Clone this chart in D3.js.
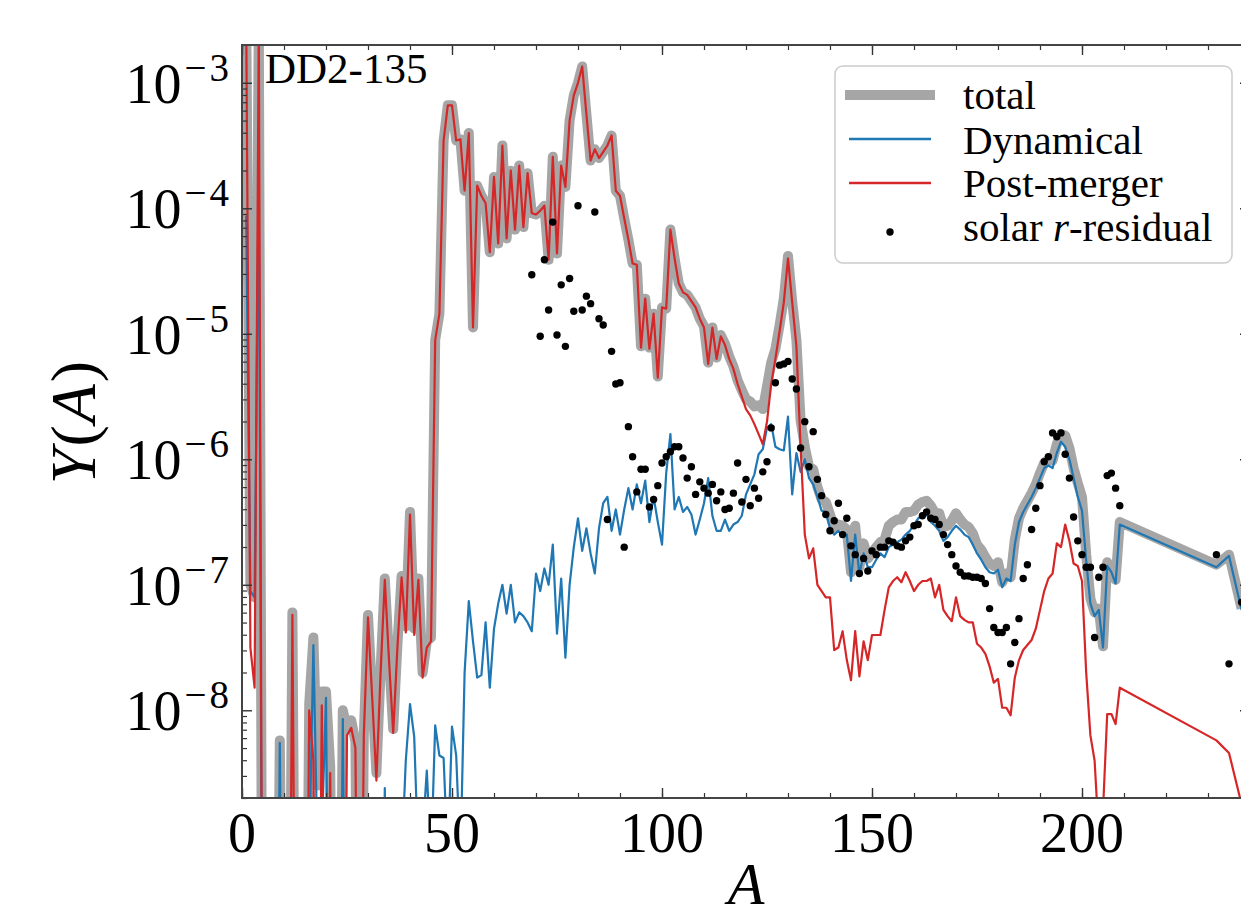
<!DOCTYPE html>
<html><head><meta charset="utf-8">
<script src="https://cdn.jsdelivr.net/npm/d3@7"></script>
<style>
body{margin:0;background:#fff}
svg{display:block}
text{font-family:"Liberation Serif","DejaVu Serif",serif;fill:#000}
</style>
</head><body>
<svg id="chart" width="1241" height="919"></svg>
<script>
// ---- data (log10 of Y(A)); -12 means below the plotted range ----
const massNumber = d3.range(1, 210).concat([232, 235, 238]);

const totalLog10 = [
-2.45,-7.0,-7.1,-2.5,-12,-12,-12,-12,-8.24,-12,
-12,-7.22,-12,-12,-12,-7.95,-7.42,-8.6,-7.85,-7.85,
-8.45,-12,-12,-8.0,-8.15,-8.08,-8.25,-12,-8.2,-7.24,
-7.88,-8.5,-7.68,-6.95,-7.58,-8.15,-7.48,-6.93,-7.33,-6.42,
-7.35,-6.95,-7.7,-7.45,-7.42,-5.05,-4.84,-3.46,-3.18,-3.18,
-3.46,-3.45,-3.86,-3.4,-4.95,-3.82,-3.9,-3.96,-4.35,-3.75,
-4.28,-3.5,-4.24,-3.7,-4.17,-3.66,-4.15,-3.72,-4.04,-4.05,
-4.02,-3.98,-4.41,-3.59,-4.36,-3.66,-3.83,-3.3,-3.1,-3.0,
-2.87,-3.25,-3.62,-3.53,-3.6,-3.55,-3.5,-3.42,-3.86,-3.9,
-4.08,-4.25,-4.44,-4.45,-5.1,-4.72,-5.11,-4.84,-5.34,-4.79,
-4.8,-4.17,-4.4,-4.6,-4.67,-4.69,-4.74,-4.79,-4.88,-4.94,
-5.23,-4.95,-5.19,-5.01,-5.08,-5.18,-5.26,-5.37,-5.45,-5.52,
-5.54,-5.58,-5.57,-5.6,-5.42,-5.23,-5.12,-4.93,-4.72,-4.38,
-4.74,-5.05,-5.69,-5.9,-6.06,-6.08,-6.22,-6.32,-6.34,-6.44,
-6.55,-6.52,-6.53,-6.56,-6.9,-6.53,-6.86,-6.67,-6.79,-6.75,
-6.7,-6.66,-6.64,-6.53,-6.5,-6.48,-6.48,-6.42,-6.42,-6.41,
-6.36,-6.34,-6.33,-6.37,-6.43,-6.43,-6.54,-6.53,-6.49,-6.43,
-6.48,-6.52,-6.54,-6.59,-6.68,-6.72,-6.78,-6.83,-6.85,-6.82,
-6.98,-6.91,-6.94,-6.64,-6.47,-6.39,-6.33,-6.27,-6.2,-6.11,
-6.03,-6.0,-6.01,-5.88,-5.8,-5.81,-5.91,-6.07,-6.19,-6.3,
-6.76,-7.11,-7.22,-7.19,-7.49,-6.82,-6.87,-6.96,-6.5,
-6.84,-6.76,-7.19];

const dynamicalLog10 = [
-4.06,-7.05,-7.1,-3.7,-12,-12,-12,-12,-8.26,-12,
-12,-12,-12,-12,-12,-9.2,-7.48,-9.2,-9.0,-7.9,
-12,-12,-12,-8.07,-12,-12,-12,-12,-12,-12,
-12,-12,-12,-8.62,-12,-12,-12,-9.2,-8.4,-7.95,
-8.21,-9.2,-9.0,-8.48,-9.2,-8.12,-8.36,-8.38,-9.2,-8.13,
-8.36,-9.2,-7.7,-7.13,-7.45,-7.74,-7.72,-7.3,-7.82,-7.35,
-7.15,-7.0,-7.23,-7.0,-7.3,-7.22,-7.25,-7.3,-7.37,-6.91,
-7.05,-6.87,-7.0,-6.68,-7.39,-6.95,-7.58,-7.0,-6.7,-6.47,
-6.73,-6.55,-6.75,-6.91,-6.55,-6.35,-6.3,-6.57,-6.4,-6.6,
-6.4,-6.23,-6.4,-6.2,-6.35,-6.17,-6.5,-6.3,-6.5,-6.68,
-6.11,-5.8,-6.4,-6.3,-6.42,-6.38,-6.44,-6.6,-6.48,-6.35,
-6.15,-6.45,-6.57,-6.57,-6.48,-6.57,-6.52,-6.5,-6.45,-6.28,
-6.2,-6.12,-5.96,-5.92,-5.75,-5.72,-5.9,-5.92,-5.93,-5.66,
-6.28,-5.95,-6.1,-6.0,-6.15,-6.2,-6.3,-6.41,-6.42,-6.55,
-6.6,-6.57,-6.6,-6.6,-6.97,-6.6,-6.92,-6.75,-6.86,-6.86,
-6.8,-6.75,-6.78,-6.7,-6.68,-6.66,-6.64,-6.6,-6.57,-6.52,
-6.47,-6.45,-6.44,-6.5,-6.53,-6.57,-6.65,-6.62,-6.57,-6.53,
-6.56,-6.6,-6.62,-6.68,-6.75,-6.8,-6.86,-6.9,-6.91,-6.88,
-7.02,-6.95,-6.97,-6.68,-6.5,-6.42,-6.36,-6.3,-6.23,-6.15,
-6.07,-6.05,-6.07,-5.95,-5.86,-5.9,-6.0,-6.15,-6.3,-6.41,
-6.81,-7.15,-7.25,-7.2,-7.5,-6.85,-6.9,-6.99,-6.52,
-6.86,-6.77,-7.2];

const postMergerLog10 = [
-2.5,-7.5,-7.82,-2.55,-12,-12,-12,-12,-12,-12,
-12,-7.24,-12,-12,-12,-8.0,-8.4,-12,-7.96,-12,
-8.5,-12,-12,-12,-8.2,-8.14,-8.3,-12,-8.2,-7.26,
-7.9,-8.56,-7.7,-6.96,-7.6,-8.18,-7.5,-6.94,-7.38,-6.44,
-7.4,-6.96,-7.74,-7.5,-7.45,-5.05,-4.84,-3.46,-3.18,-3.18,
-3.46,-3.45,-3.86,-3.4,-4.95,-3.82,-3.9,-3.96,-4.35,-3.75,
-4.28,-3.5,-4.24,-3.7,-4.17,-3.66,-4.15,-3.72,-4.04,-4.05,
-4.02,-3.98,-4.41,-3.59,-4.36,-3.66,-3.83,-3.3,-3.1,-3.0,
-2.87,-3.25,-3.62,-3.53,-3.6,-3.55,-3.5,-3.42,-3.86,-3.9,
-4.08,-4.25,-4.44,-4.45,-5.11,-4.72,-5.12,-4.84,-5.35,-4.79,
-4.8,-4.17,-4.4,-4.6,-4.67,-4.69,-4.74,-4.79,-4.88,-4.95,
-5.24,-4.95,-5.2,-5.02,-5.09,-5.2,-5.28,-5.4,-5.5,-5.6,
-5.65,-5.72,-5.8,-5.88,-5.7,-5.4,-5.2,-4.98,-4.75,-4.4,
-4.75,-5.1,-5.9,-6.6,-6.79,-6.71,-7.0,-7.05,-7.1,-7.1,
-7.52,-7.5,-7.37,-7.6,-7.76,-7.37,-7.73,-7.45,-7.6,-7.4,
-7.4,-7.4,-7.2,-7.02,-6.97,-6.94,-6.98,-6.9,-6.97,-7.05,
-7.0,-6.97,-6.97,-6.95,-7.1,-7.0,-7.2,-7.25,-7.29,-7.1,
-7.25,-7.28,-7.3,-7.3,-7.47,-7.5,-7.55,-7.65,-7.78,-7.75,
-7.98,-7.98,-8.04,-7.74,-7.6,-7.52,-7.48,-7.44,-7.35,-7.2,
-7.05,-6.95,-6.91,-6.67,-6.7,-6.52,-6.65,-6.83,-6.85,-6.97,
-7.7,-8.2,-8.4,-9.0,-8.8,-8.03,-8.03,-8.11,-7.82,
-8.24,-8.34,-8.75];

const solarA = [69,71,72,73,74,75,76,77,78,79,80,81,82,83,84,85,86,87,88,89,90,91,92,93,94,95,96,97,98,99,
100,101,102,103,104,105,106,107,108,109,110,111,112,113,114,115,116,117,118,119,120,121,122,123,124,125,126,127,128,129,
130,131,132,133,134,135,136,137,138,139,140,141,142,143,144,145,146,147,148,149,150,151,152,153,154,155,156,157,158,159,
160,161,162,163,164,165,166,167,168,169,170,171,172,173,174,175,176,177,178,179,180,181,182,183,184,185,186,187,188,189,
190,191,192,193,194,195,196,197,198,199,200,201,202,203,204,205,206,207,208,209,232,235,238];
const solarLog10 = [-4.53,-5.02,-4.41,-4.81,-4.11,-5.01,-4.61,-5.10,-4.56,-4.82,-3.98,-4.81,-4.70,-4.76,-4.03,-4.88,-4.93,-6.48,-5.14,-5.40,-5.39,-6.70,-5.74,-5.98,-6.26,-6.08,-6.08,-6.38,-6.32,-6.21,
-6.03,-5.98,-5.94,-5.90,-5.90,-5.99,-6.15,-6.06,-6.28,-6.18,-6.23,-6.27,-6.20,-6.33,-6.26,-6.40,-6.39,-6.27,-6.03,-6.34,-6.16,-6.37,-6.23,-6.31,-6.10,-6.02,-5.75,-5.39,-5.25,-5.24,
-5.22,-5.36,-5.44,-5.91,-5.70,-6.06,-5.78,-6.16,-6.29,-6.44,-6.57,-6.49,-6.35,-6.60,-6.47,-6.69,-6.76,-6.91,-6.79,-6.89,-6.73,-6.76,-6.70,-6.70,-6.65,-6.66,-6.69,-6.70,-6.65,-6.62,
-6.53,-6.52,-6.45,-6.42,-6.47,-6.48,-6.52,-6.60,-6.68,-6.76,-6.85,-6.90,-6.93,-6.93,-6.94,-6.94,-6.95,-6.99,-7.19,-7.34,-7.38,-7.38,-7.34,-7.63,-7.46,-7.27,-6.95,-6.84,-6.56,-6.39,
-6.21,-6.02,-5.98,-5.79,-5.82,-5.79,-5.96,-6.15,-6.46,-6.65,-6.76,-6.86,-6.86,-7.42,-6.94,-6.86,-6.13,-6.11,-6.23,-6.37,-6.76,-7.63,-7.14];

const xMajorTicks = [0, 50, 100, 150, 200];
const xMinorTicks = d3.range(0, 241, 10);
const yMajorExponents = [-8, -7, -6, -5, -4, -3];
const legendLabels = ["total", "Dynamical", "Post-merger", "solar r-residual"];
const modelLabel = "DD2-135";
const xLabel = "A";

// ---- layout ----
const L = 242, R = 1250, T = 45, B = 798;
const colTotal = "#a6a6a6", colDyn = "#1f77b4", colPost = "#d62728";

const svg = d3.select("#chart");
const x = d3.scaleLinear().domain([0, 240]).range([L, R]);
const y = d3.scaleLog().domain([2e-9, 2e-3]).range([B, T]);

svg.append("defs").append("clipPath").attr("id", "plotclip")
  .append("rect").attr("x", L).attr("y", T).attr("width", R - L).attr("height", B - T);

const plot = svg.append("g").attr("clip-path", "url(#plotclip)");

function series(logs) { return massNumber.map((a, i) => ({A: a, v: Math.pow(10, logs[i])})); }
const line = d3.line().x(d => x(d.A)).y(d => y(d.v));

plot.append("path").datum(series(totalLog10)).attr("d", line)
  .attr("fill", "none").attr("stroke", colTotal).attr("stroke-width", 10)
  .attr("stroke-linejoin", "round");
plot.append("path").datum(series(dynamicalLog10)).attr("d", line)
  .attr("fill", "none").attr("stroke", colDyn).attr("stroke-width", 2.2)
  .attr("stroke-linejoin", "round");
plot.append("path").datum(series(postMergerLog10)).attr("d", line)
  .attr("fill", "none").attr("stroke", colPost).attr("stroke-width", 2.2)
  .attr("stroke-linejoin", "round");

plot.selectAll("circle.sol").data(solarA.map((a, i) => ({A: a, v: Math.pow(10, solarLog10[i])})))
  .enter().append("circle").attr("class", "sol")
  .attr("cx", d => x(d.A)).attr("cy", d => y(d.v)).attr("r", 3.7).attr("fill", "#000");

// ---- axes (ticks inward on all four sides) ----
const yMinor = [];
for (let e = -9; e <= -3; e++) for (let m = 2; m <= 9; m++) {
  const v = m * Math.pow(10, e);
  if (v >= 2e-9 && v <= 2e-3) yMinor.push(v);
}
const yMajor = yMajorExponents.map(e => Math.pow(10, e));

function styleAxis(g, w) {
  g.select(".domain").remove();
  g.selectAll(".tick line").attr("stroke", "#333").attr("stroke-width", w);
}
svg.append("g").attr("transform", `translate(0,${B})`)
  .call(d3.axisBottom(x).tickValues(xMinorTicks).tickSize(-5).tickFormat("")).call(g => styleAxis(g, 1.2));
svg.append("g").attr("transform", `translate(0,${B})`)
  .call(d3.axisBottom(x).tickValues(xMajorTicks).tickSize(-10).tickFormat("")).call(g => styleAxis(g, 1.4));
svg.append("g").attr("transform", `translate(0,${T})`)
  .call(d3.axisTop(x).tickValues(xMinorTicks).tickSize(-5).tickFormat("")).call(g => styleAxis(g, 1.2));
svg.append("g").attr("transform", `translate(0,${T})`)
  .call(d3.axisTop(x).tickValues(xMajorTicks).tickSize(-10).tickFormat("")).call(g => styleAxis(g, 1.4));
svg.append("g").attr("transform", `translate(${L},0)`)
  .call(d3.axisLeft(y).tickValues(yMinor).tickSize(-5).tickFormat("")).call(g => styleAxis(g, 1.2));
svg.append("g").attr("transform", `translate(${L},0)`)
  .call(d3.axisLeft(y).tickValues(yMajor).tickSize(-10).tickFormat("")).call(g => styleAxis(g, 1.4));
svg.append("g").attr("transform", `translate(${R},0)`)
  .call(d3.axisRight(y).tickValues(yMinor).tickSize(-5).tickFormat("")).call(g => styleAxis(g, 1.2));
svg.append("g").attr("transform", `translate(${R},0)`)
  .call(d3.axisRight(y).tickValues(yMajor).tickSize(-10).tickFormat("")).call(g => styleAxis(g, 1.4));

svg.append("rect").attr("x", L).attr("y", T).attr("width", R - L).attr("height", B - T)
  .attr("fill", "none").attr("stroke", "#444").attr("stroke-width", 2);

// tick labels
svg.append("g").selectAll("text").data(xMajorTicks).enter().append("text")
  .attr("x", d => x(d)).attr("y", 852).attr("text-anchor", "middle")
  .attr("font-size", 56).text(d => d);

const yl = svg.append("g").selectAll("text").data(yMajorExponents).enter().append("text")
  .attr("x", 232).attr("y", d => y(Math.pow(10, d)) + 20).attr("text-anchor", "end").attr("font-size", 56);
yl.append("tspan").text("10");
yl.append("tspan").attr("dy", -22).attr("dx", 3).attr("font-size", 39).attr("letter-spacing", 3)
  .text(d => "\u2212" + Math.abs(d));

// axis labels
svg.append("text").attr("x", (L + R) / 2).attr("y", 904).attr("text-anchor", "middle")
  .attr("font-size", 60).attr("font-style", "italic").text(xLabel);
const ylab = svg.append("text").attr("transform", `translate(95,${(T + B) / 2}) rotate(-90)`)
  .attr("text-anchor", "middle").attr("font-size", 64).attr("letter-spacing", 2);
ylab.append("tspan").attr("font-style", "italic").text("Y");
ylab.append("tspan").text("(");
ylab.append("tspan").attr("font-style", "italic").text("A");
ylab.append("tspan").text(")");

svg.append("text").attr("x", 265).attr("y", 83).attr("font-size", 43).text(modelLabel);

// legend
const lg = svg.append("g");
lg.append("rect").attr("x", 835).attr("y", 66).attr("width", 397).attr("height", 197).attr("rx", 8)
  .attr("fill", "#fff").attr("fill-opacity", 0.85).attr("stroke", "#cccccc").attr("stroke-width", 1.5);
const rowsY = [95, 139, 183, 232];
const baseY = [109, 154, 197, 241];
lg.append("line").attr("x1", 845).attr("x2", 935).attr("y1", rowsY[0]).attr("y2", rowsY[0])
  .attr("stroke", colTotal).attr("stroke-width", 10);
lg.append("line").attr("x1", 849).attr("x2", 931).attr("y1", rowsY[1]).attr("y2", rowsY[1])
  .attr("stroke", colDyn).attr("stroke-width", 2.4);
lg.append("line").attr("x1", 849).attr("x2", 931).attr("y1", rowsY[2]).attr("y2", rowsY[2])
  .attr("stroke", colPost).attr("stroke-width", 2.4);
lg.append("circle").attr("cx", 890).attr("cy", rowsY[3]).attr("r", 3.7).attr("fill", "#000");
legendLabels.forEach((lab, i) => {
  const t = lg.append("text").attr("x", 963).attr("y", baseY[i]).attr("font-size", 41);
  if (lab.indexOf(" r-") >= 0) {
    const parts = lab.split(" r-");
    t.append("tspan").text(parts[0] + " ");
    t.append("tspan").attr("font-style", "italic").text("r");
    t.append("tspan").text("-" + parts[1]);
  } else t.text(lab);
});
</script>
</body></html>
